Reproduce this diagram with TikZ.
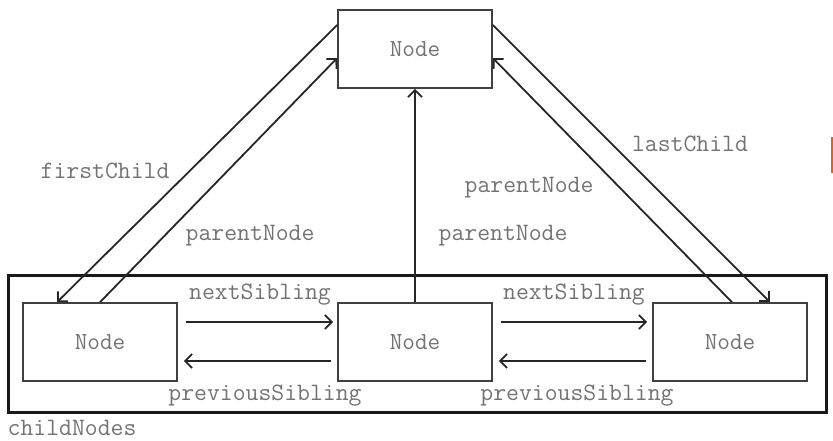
\documentclass[tikz,border=0pt]{standalone}
\usetikzlibrary{arrows.meta,calc}
\begin{document}
\begin{tikzpicture}[x=1pt,y=-1pt,
  box/.style={draw=black!75, line width=1.6pt, minimum width=154pt, minimum height=78pt, inner sep=0pt, font=\ttfamily\fontsize{24.5}{25}\selectfont, text=black!55},
  lbl/.style={font=\ttfamily\fontsize{25}{25}\selectfont, text=black!55, inner sep=0pt},
  arr/.style={line width=1.8pt, draw=black!85, -{Straight Barb[length=7pt,width=14pt,line width=1.8pt]}},
]
\useasboundingbox (0,0) rectangle (833,440);
\node[draw=black!90, line width=3pt, minimum width=818pt, minimum height=137pt, inner sep=0pt] (outer) at (417,343.5) {};
\node[box] (top) at (415,49) {Node};
\node[box] (l) at (100,342) {Node};
\node[box] (m) at (415,342) {Node};
\node[box] (r) at (730,342) {Node};

\draw[arr] ([yshift=24pt]top.west) -- ([xshift=-43pt]l.north);
\draw[arr] (l.north) -- ([yshift=-9pt]top.west);
\draw[arr] (m.north) -- (top.south);
\draw[arr] ([yshift=24pt]top.east) -- ([xshift=40pt]r.north);
\draw[arr] ([xshift=2pt]r.north) -- ([yshift=-9pt]top.east);

\draw[arr] ($(l.east)+(8,-20)$) -- ($(m.west)+(-4,-20)$);
\draw[arr] ($(m.west)+(-6,19)$) -- ($(l.east)+(6,19)$);
\draw[arr] ($(m.east)+(8,-20)$) -- ($(r.west)+(-5,-20)$);
\draw[arr] ($(r.west)+(-6,19)$) -- ($(m.east)+(6,19)$);

\node[lbl] (fc) at (105,171) {firstChild};
\node[lbl] (pl) at (250,236) {parentNode};
\node[lbl] (pm) at (503,236) {parentNode};
\node[lbl] (pr) at (529,188) {parentNode};
\node[lbl] (lc) at (690,144) {lastChild};
\node[lbl] (ns1) at (260,295) {nextSibling};
\node[lbl] (ns2) at (574,295) {nextSibling};
\node[lbl] (ps1) at (265,396) {previousSibling};
\node[lbl] (ps2) at (577,396) {previousSibling};
\node[lbl] (cn) at (72,428) {childNodes};

\fill[orange!70!red] (831,137) rectangle (833,173);
\end{tikzpicture}
\end{document}
